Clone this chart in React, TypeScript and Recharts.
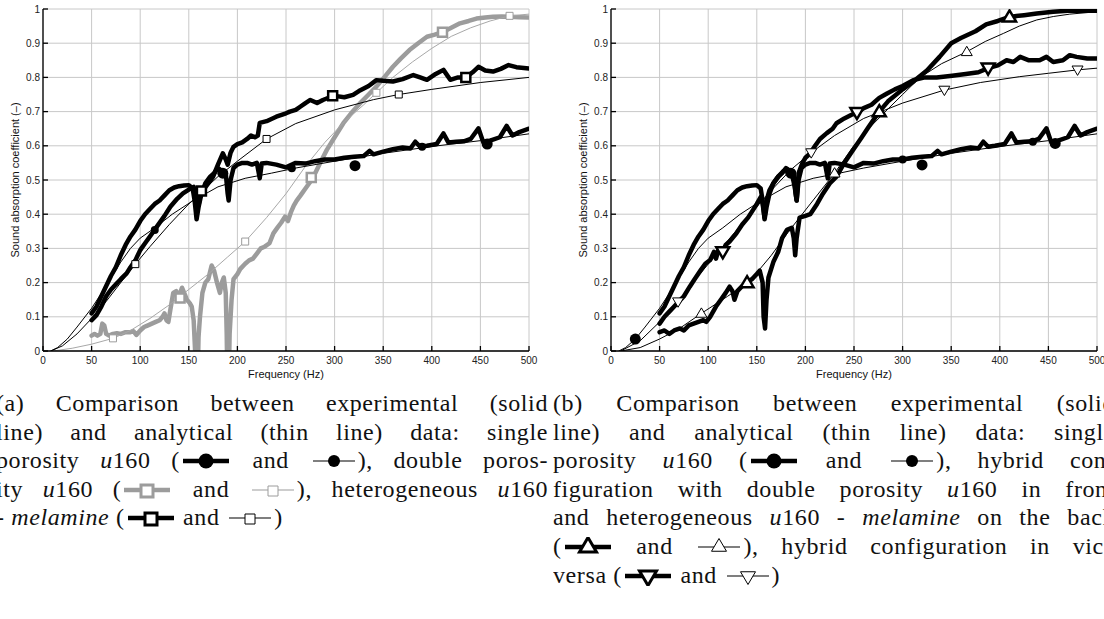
import React from "react";
import {
  CartesianGrid,
  ComposedChart,
  Label,
  Line,
  Scatter,
  XAxis,
  YAxis,
} from "recharts";

// frequency (Hz) / absorption coefficient pairs
const X_TICKS = [0, 50, 100, 150, 200, 250, 300, 350, 400, 450, 500];
const Y_TICKS = [0, 0.1, 0.2, 0.3, 0.4, 0.5, 0.6, 0.7, 0.8, 0.9, 1];

// single porosity u160
const SP_EXP = [
  [50, 0.11], [55, 0.13], [60, 0.16], [65, 0.19], [70, 0.22], [75, 0.245], [80, 0.28],
  [85, 0.31], [90, 0.335], [95, 0.355], [100, 0.38], [105, 0.4], [110, 0.415], [115, 0.43],
  [120, 0.44], [125, 0.455], [130, 0.47], [135, 0.478], [140, 0.482], [145, 0.484],
  [150, 0.485], [154, 0.475], [156, 0.44], [158, 0.385], [160, 0.42], [163, 0.46],
  [167, 0.49], [172, 0.51], [176, 0.52], [180, 0.535], [185, 0.525], [188, 0.52],
  [190, 0.46], [191, 0.44], [193, 0.5], [196, 0.535], [200, 0.545], [205, 0.55],
  [210, 0.55], [215, 0.545], [220, 0.55], [222, 0.52], [223, 0.505], [225, 0.548],
  [230, 0.55], [240, 0.545], [250, 0.537], [260, 0.55], [270, 0.548], [280, 0.555],
  [290, 0.56], [300, 0.56], [310, 0.565], [320, 0.568], [330, 0.57], [336, 0.585],
  [340, 0.575], [350, 0.583], [360, 0.59], [370, 0.595], [378, 0.592], [383, 0.612],
  [388, 0.597], [395, 0.6], [405, 0.605], [412, 0.636], [417, 0.61], [425, 0.612],
  [433, 0.613], [440, 0.62], [448, 0.651], [453, 0.61], [460, 0.615], [470, 0.625],
  [477, 0.658], [483, 0.63], [490, 0.64], [500, 0.65],
];
const SP_ANA = [
  [8, 0], [15, 0.01], [25, 0.035], [35, 0.07], [50, 0.125], [65, 0.19], [80, 0.26],
  [90, 0.3], [100, 0.33], [115, 0.36], [133, 0.4], [153, 0.437], [180, 0.48],
  [208, 0.505], [235, 0.52], [260, 0.535], [300, 0.555], [350, 0.578], [400, 0.598],
  [450, 0.615], [500, 0.635],
];

// double porosity u160
const DP_EXP = [
  [50, 0.045], [53, 0.05], [56, 0.045], [59, 0.05], [61, 0.08], [63, 0.075], [65, 0.05],
  [68, 0.045], [72, 0.05], [76, 0.052], [80, 0.05], [85, 0.055], [90, 0.055], [93, 0.058],
  [96, 0.047], [100, 0.06], [104, 0.07], [108, 0.075], [112, 0.08], [116, 0.085],
  [120, 0.09], [123, 0.1], [125, 0.11], [127, 0.09], [129, 0.085], [131, 0.12],
  [134, 0.17], [137, 0.175], [140, 0.16], [143, 0.185], [146, 0.165], [148, 0.15],
  [151, 0.14], [153, 0.13], [155, 0.09], [156.5, 0], [157.5, -0.1], [159, -0.1],
  [160, 0.04], [161.5, 0.1], [164, 0.17], [167, 0.2], [170, 0.21], [173.5, 0.25],
  [176, 0.235], [179, 0.2], [182, 0.17], [184, 0.2], [186, 0.215], [188, 0.17],
  [189, 0.05], [189.8, -0.1], [191, -0.1], [192, 0.05], [194, 0.15], [196, 0.21],
  [200, 0.225], [203, 0.24], [208, 0.255], [212, 0.265], [216, 0.27], [220, 0.285],
  [224, 0.3], [228, 0.305], [233, 0.315], [237, 0.344], [241, 0.36], [245, 0.375],
  [249, 0.393], [252, 0.38], [255, 0.405], [258, 0.425], [261, 0.44], [265, 0.455],
  [270, 0.475], [275, 0.495], [280, 0.52], [286, 0.555], [292, 0.588], [300, 0.625],
  [309, 0.666], [317, 0.695], [326, 0.724], [335, 0.75], [343, 0.773], [351, 0.8],
  [360, 0.831], [368, 0.855], [377, 0.88], [386, 0.9], [395, 0.919], [403, 0.925],
  [411, 0.932], [420, 0.945], [429, 0.958], [438, 0.965], [446, 0.972], [455, 0.975],
  [463, 0.977], [472, 0.978], [480, 0.977], [490, 0.976], [500, 0.975],
];
const DP_ANA = [
  [10, 0], [30, 0.008], [50, 0.02], [72, 0.037], [90, 0.06], [110, 0.095], [130, 0.135],
  [150, 0.18], [170, 0.225], [190, 0.275], [208, 0.32], [230, 0.39], [250, 0.46],
  [270, 0.54], [290, 0.61], [310, 0.67], [330, 0.72], [343, 0.755], [360, 0.8],
  [380, 0.845], [400, 0.885], [420, 0.92], [440, 0.945], [460, 0.965], [480, 0.98],
  [500, 0.985],
];

// heterogeneous u160 - melamine
const HM_EXP = [
  [50, 0.09], [55, 0.105], [60, 0.13], [65, 0.16], [70, 0.18], [75, 0.195], [80, 0.21],
  [86, 0.227], [90, 0.245], [95, 0.265], [100, 0.295], [105, 0.315], [110, 0.335],
  [117, 0.363], [125, 0.395], [131, 0.422], [138, 0.445], [144, 0.461], [150, 0.472],
  [155, 0.48], [158, 0.45], [160, 0.425], [162, 0.46], [166, 0.475], [170, 0.49],
  [175, 0.51], [180, 0.545], [185, 0.578], [188, 0.56], [190, 0.545], [193, 0.58],
  [196, 0.597], [200, 0.605], [205, 0.61], [210, 0.62], [214, 0.63], [218, 0.625],
  [221, 0.63], [223, 0.667], [230, 0.672], [240, 0.685], [250, 0.695], [254, 0.7],
  [260, 0.705], [265, 0.715], [270, 0.725], [275, 0.734], [282, 0.725], [288, 0.734],
  [295, 0.742], [300, 0.746], [310, 0.742], [319, 0.749], [325, 0.76], [335, 0.775],
  [343, 0.792], [350, 0.79], [360, 0.788], [370, 0.795], [381, 0.807], [388, 0.8],
  [395, 0.793], [404, 0.81], [412, 0.822], [419, 0.793], [427, 0.8], [435, 0.8],
  [442, 0.815], [448, 0.831], [455, 0.82], [463, 0.817], [471, 0.825], [479, 0.836],
  [487, 0.83], [500, 0.826],
];
const HM_ANA = [
  [8, 0], [20, 0.015], [35, 0.05], [50, 0.095], [65, 0.145], [80, 0.2], [95, 0.254],
  [110, 0.305], [130, 0.37], [150, 0.43], [163, 0.465], [180, 0.51], [200, 0.555],
  [230, 0.62], [260, 0.665], [300, 0.705], [340, 0.735], [366, 0.75], [400, 0.765],
  [450, 0.785], [500, 0.8],
];

// hybrid: double porosity front, heterogeneous back
const HY1_EXP = [
  [50, 0.055], [55, 0.06], [60, 0.05], [65, 0.06], [71, 0.066], [75, 0.06], [80, 0.075],
  [85, 0.08], [90, 0.085], [95, 0.09], [98, 0.085], [102, 0.1], [108, 0.13], [113, 0.15],
  [118, 0.17], [122, 0.188], [125, 0.175], [127, 0.15], [130, 0.175], [135, 0.19],
  [140, 0.2], [145, 0.21], [150, 0.225], [153, 0.235], [156, 0.2], [157, 0.1],
  [158.5, 0.066], [160, 0.15], [162, 0.215], [167, 0.26], [172, 0.29], [176, 0.33],
  [181, 0.354], [186, 0.36], [188, 0.33], [189.5, 0.28], [191, 0.33], [194, 0.39],
  [200, 0.395], [205, 0.4], [212, 0.43], [218, 0.46], [225, 0.49], [232, 0.51],
  [240, 0.55], [249, 0.588], [258, 0.625], [265, 0.655], [276, 0.7], [285, 0.73],
  [300, 0.765], [312, 0.79], [325, 0.82], [338, 0.86], [350, 0.9], [360, 0.915],
  [375, 0.935], [386, 0.955], [398, 0.965], [410, 0.977], [425, 0.982], [438, 0.987],
  [455, 0.992], [470, 0.995], [500, 0.995],
];
const HY1_ANA = [
  [10, 0], [30, 0.01], [50, 0.035], [70, 0.065], [93, 0.11], [120, 0.16], [143, 0.205],
  [165, 0.28], [184, 0.354], [205, 0.43], [230, 0.52], [249, 0.597], [265, 0.65],
  [284, 0.705], [300, 0.75], [318, 0.8], [340, 0.84], [366, 0.875], [385, 0.905],
  [404, 0.929], [420, 0.95], [438, 0.968], [455, 0.978], [472, 0.985], [500, 0.992],
];

// hybrid: vice versa
const HY2_EXP = [
  [50, 0.08], [55, 0.1], [60, 0.115], [65, 0.13], [70, 0.145], [75, 0.16], [81, 0.188],
  [86, 0.21], [92, 0.235], [97, 0.255], [102, 0.266], [106, 0.29], [108, 0.27],
  [111, 0.3], [115, 0.29], [118, 0.31], [122, 0.32], [129, 0.344], [135, 0.37],
  [141, 0.39], [146, 0.412], [150, 0.43], [154, 0.45], [156, 0.43], [158, 0.39],
  [160, 0.44], [163, 0.47], [167, 0.49], [172, 0.51], [177, 0.525], [182, 0.53],
  [186, 0.52], [189, 0.48], [191, 0.44], [193, 0.52], [197, 0.55], [200, 0.565],
  [205, 0.578], [210, 0.6], [215, 0.62], [222, 0.637], [228, 0.65], [232, 0.666],
  [240, 0.68], [247, 0.69], [253, 0.697], [260, 0.71], [268, 0.72], [276, 0.74],
  [284, 0.753], [292, 0.765], [300, 0.775], [311, 0.792], [323, 0.8], [335, 0.8],
  [351, 0.805], [365, 0.81], [378, 0.815], [388, 0.827], [398, 0.835], [407, 0.85],
  [414, 0.845], [421, 0.86], [430, 0.85], [441, 0.85], [448, 0.86], [455, 0.845],
  [465, 0.85], [472, 0.865], [479, 0.86], [490, 0.855], [500, 0.855],
];
const HY2_ANA = [
  [10, 0], [30, 0.03], [50, 0.085], [69, 0.144], [90, 0.22], [115, 0.305], [140, 0.39],
  [165, 0.47], [185, 0.53], [206, 0.58], [230, 0.63], [260, 0.68], [300, 0.725],
  [343, 0.763], [380, 0.785], [420, 0.802], [450, 0.812], [480, 0.822], [500, 0.827],
];

// marker positions
const SP_MK_THICK_A = [[185, 0.52], [321, 0.542], [457, 0.605]];
const SP_MK_THIN_A = [[115, 0.354], [256, 0.534], [390, 0.597]];
const SP_MK_THICK_B = [[25, 0.035], [185, 0.52], [320, 0.544], [457, 0.607]];
const SP_MK_THIN_B = [[300, 0.56], [434, 0.612]];
const DP_MK_THICK = [[141, 0.155], [276, 0.507], [411, 0.932]];
const DP_MK_THIN = [[72, 0.037], [208, 0.32], [343, 0.755], [480, 0.98]];
const HM_MK_THICK = [[163, 0.468], [298, 0.746], [435, 0.8]];
const HM_MK_THIN = [[95, 0.254], [230, 0.62], [366, 0.75]];
const HY1_MK_THICK = [[140, 0.2], [276, 0.7], [410, 0.977]];
const HY1_MK_THIN = [[93, 0.11], [230, 0.52], [366, 0.875]];
const HY2_MK_THICK = [[115, 0.29], [253, 0.697], [388, 0.827]];
const HY2_MK_THIN = [[69, 0.144], [206, 0.58], [343, 0.763], [480, 0.822]];

const BLACK = "#000";
const GREY = "#9c9c9c";
const GREY_THIN = "#a8a8a8";
const SANS = "'Liberation Sans', Arial, Helvetica, sans-serif";
const SERIF = "'Liberation Serif', 'Times New Roman', serif";

type Pt = { x: number; y: number };
const pts = (arr: number[][]): Pt[] => arr.map(([x, y]) => ({ x, y }));

type Kind = "circle" | "square" | "up" | "down";

const shapePath = (kind: Kind, cx: number, cy: number, s: number) => {
  if (kind === "up")
    return `M${cx},${cy - s}L${cx + s},${cy + s * 0.7}L${cx - s},${cy + s * 0.7}Z`;
  if (kind === "down")
    return `M${cx},${cy + s}L${cx + s},${cy - s * 0.7}L${cx - s},${cy - s * 0.7}Z`;
  return `M${cx - s},${cy - s}h${2 * s}v${2 * s}h${-2 * s}Z`;
};

const markerShape =
  (kind: Kind, s: number, color: string, sw: number) => (props: any) => {
    const { cx, cy } = props;
    if (cx == null || cy == null) return <g />;
    if (kind === "circle") return <circle cx={cx} cy={cy} r={s} fill={color} />;
    return (
      <path d={shapePath(kind, cx, cy, s)} fill="#fff" stroke={color} strokeWidth={sw} />
    );
  };

type LineDef = { data: number[][]; color: string; width: number };
type MarkDef = { data: number[][]; kind: Kind; size: number; color: string; sw: number };

const tickFmt = (v: number) => (v === 0 ? "0" : v === 1 ? "1" : String(v));

const Plot = ({ left, lines, marks }: { left: number; lines: LineDef[]; marks: MarkDef[] }) => (
  <div style={{ position: "absolute", left, top: 0 }}>
    <ComposedChart width={540} height={380} margin={{ top: 9, right: 11, bottom: 0, left: 0 }}>
      <CartesianGrid stroke="#c8c8c8" strokeWidth={1} />
      <XAxis
        type="number"
        dataKey="x"
        domain={[0, 500]}
        ticks={X_TICKS}
        interval={0}
        allowDataOverflow
        height={29}
        tickSize={-5}
        tickMargin={11}
        stroke={BLACK}
        strokeWidth={1.3}
        tick={{ fontSize: 10, fill: "#222", fontFamily: SANS }}
      >
        <Label
          value="Frequency (Hz)"
          position="insideBottom"
          offset={2}
          style={{ fontSize: 11, fill: "#111", fontFamily: SANS }}
        />
      </XAxis>
      <XAxis
        xAxisId="top"
        orientation="top"
        type="number"
        domain={[0, 500]}
        ticks={X_TICKS}
        interval={0}
        allowDataOverflow
        height={0}
        tickSize={-5}
        tick={false}
        stroke={BLACK}
        strokeWidth={1.3}
      />
      <YAxis
        type="number"
        domain={[0, 1]}
        ticks={Y_TICKS}
        interval={0}
        allowDataOverflow
        width={43}
        tickSize={-5}
        tickMargin={8}
        tickFormatter={tickFmt}
        stroke={BLACK}
        strokeWidth={1.3}
        tick={{ fontSize: 10, fill: "#222", fontFamily: SANS }}
      >
        <Label
          value="Sound absorption coefficient (–)"
          angle={-90}
          position="insideLeft"
          offset={15}
          style={{ fontSize: 11, fill: "#111", fontFamily: SANS, textAnchor: "middle" }}
        />
      </YAxis>
      <YAxis
        yAxisId="right"
        orientation="right"
        type="number"
        domain={[0, 1]}
        ticks={Y_TICKS}
        interval={0}
        width={0}
        tickSize={-5}
        tick={false}
        stroke={BLACK}
        strokeWidth={1.3}
      />
      {lines.map((l, i) => (
        <Line
          key={`l-${i}`}
          data={pts(l.data)}
          dataKey="y"
          type="linear"
          stroke={l.color}
          strokeWidth={l.width}
          strokeLinejoin="round"
          strokeLinecap="round"
          dot={false}
          activeDot={false}
          isAnimationActive={false}
        />
      ))}
      {marks.map((m, i) => (
        <Scatter
          key={`m-${i}`}
          data={pts(m.data)}
          dataKey="y"
          shape={markerShape(m.kind, m.size, m.color, m.sw)}
          isAnimationActive={false}
        />
      ))}
    </ComposedChart>
  </div>
);

const THICK = 4.5;
const THIN = 1;

const LEFT_LINES: LineDef[] = [
  { data: DP_EXP, color: GREY, width: THICK },
  { data: DP_ANA, color: GREY_THIN, width: THIN },
  { data: SP_EXP, color: BLACK, width: THICK },
  { data: HM_EXP, color: BLACK, width: THICK },
  { data: SP_ANA, color: BLACK, width: THIN },
  { data: HM_ANA, color: BLACK, width: THIN },
];
const LEFT_MARKS: MarkDef[] = [
  { data: DP_MK_THICK, kind: "square", size: 4.5, color: GREY, sw: 2.5 },
  { data: DP_MK_THIN, kind: "square", size: 3.5, color: GREY, sw: 1 },
  { data: SP_MK_THICK_A, kind: "circle", size: 5.5, color: BLACK, sw: 0 },
  { data: SP_MK_THIN_A, kind: "circle", size: 4, color: BLACK, sw: 0 },
  { data: HM_MK_THICK, kind: "square", size: 4.5, color: BLACK, sw: 2.5 },
  { data: HM_MK_THIN, kind: "square", size: 3.5, color: BLACK, sw: 1 },
];
const RIGHT_LINES: LineDef[] = [
  { data: SP_EXP, color: BLACK, width: THICK },
  { data: HY1_EXP, color: BLACK, width: THICK },
  { data: HY2_EXP, color: BLACK, width: THICK },
  { data: SP_ANA, color: BLACK, width: THIN },
  { data: HY1_ANA, color: BLACK, width: THIN },
  { data: HY2_ANA, color: BLACK, width: THIN },
];
const RIGHT_MARKS: MarkDef[] = [
  { data: SP_MK_THICK_B, kind: "circle", size: 5.5, color: BLACK, sw: 0 },
  { data: SP_MK_THIN_B, kind: "circle", size: 4, color: BLACK, sw: 0 },
  { data: HY1_MK_THICK, kind: "up", size: 6.5, color: BLACK, sw: 2.5 },
  { data: HY1_MK_THIN, kind: "up", size: 5.5, color: BLACK, sw: 1 },
  { data: HY2_MK_THICK, kind: "down", size: 6.5, color: BLACK, sw: 2.5 },
  { data: HY2_MK_THIN, kind: "down", size: 5.5, color: BLACK, sw: 1 },
];

// little legend glyphs used inside the captions
const Sym = ({ kind, thick, color = BLACK }: { kind: Kind; thick: boolean; color?: string }) => {
  const w = thick ? 50 : 46;
  const cy = 10;
  const cx = w / 2;
  const s = thick ? 6.5 : 5.5;
  return (
    <svg width={w} height={20} style={{ verticalAlign: "-3px", margin: "0 1px" }}>
      <line x1={2} x2={w - 2} y1={cy} y2={cy} stroke={color} strokeWidth={thick ? 4.5 : 1.2} />
      {kind === "circle" ? (
        <circle cx={cx} cy={cy} r={thick ? 7.5 : 6} fill={color} />
      ) : (
        <path
          d={shapePath(kind, cx, kind === "up" ? cy - 1 : cy + 1, kind === "square" ? s - 0.5 : s + 2)}
          fill="#fff"
          stroke={color}
          strokeWidth={thick ? 3 : 1}
        />
      )}
    </svg>
  );
};

const lineStyle = (left: number, width: number, i: number, justify: boolean): React.CSSProperties => ({
  position: "absolute",
  left,
  top: 388 + i * 28.6,
  width,
  height: 30,
  lineHeight: "30px",
  fontFamily: SERIF,
  fontSize: 24,
  letterSpacing: "0.6px",
  color: "#111",
  whiteSpace: "normal",
  textAlign: justify ? "justify" : "left",
  textAlignLast: justify ? "justify" : "left",
  overflow: "hidden",
});

const U = () => (
  <>
    <i>u</i>160
  </>
);

const COL_A = { left: -4, width: 552 };
const COL_B = { left: 553, width: 562 };

const CapLine = ({ col, i, last, children }: any) => (
  <div style={lineStyle(col.left, col.width, i, !last)}>{children}</div>
);

export default function App() {
  return (
    <div
      style={{
        position: "absolute",
        left: 0,
        top: 0,
        width: 1104,
        height: 619,
        overflow: "hidden",
        background: "#fff",
      }}
    >
      <Plot left={0} lines={LEFT_LINES} marks={LEFT_MARKS} />
      <Plot left={568} lines={RIGHT_LINES} marks={RIGHT_MARKS} />

      <CapLine col={COL_A} i={0}>(a) Comparison between experimental (solid</CapLine>
      <CapLine col={COL_A} i={1}>line) and analytical (thin line) data: single</CapLine>
      <CapLine col={COL_A} i={2}>
        porosity <U /> (<Sym kind="circle" thick /> and <Sym kind="circle" thick={false} />), double poros-
      </CapLine>
      <CapLine col={COL_A} i={3}>
        ity <U /> (<Sym kind="square" thick color={GREY} /> and{" "}
        <Sym kind="square" thick={false} color={GREY} />), heterogeneous <U />
      </CapLine>
      <CapLine col={COL_A} i={4} last>
        - <i>melamine</i> (<Sym kind="square" thick /> and <Sym kind="square" thick={false} />)
      </CapLine>

      <CapLine col={COL_B} i={0}>(b) Comparison between experimental (solid</CapLine>
      <CapLine col={COL_B} i={1}>line) and analytical (thin line) data: single</CapLine>
      <CapLine col={COL_B} i={2}>
        porosity <U /> (<Sym kind="circle" thick /> and <Sym kind="circle" thick={false} />), hybrid con-
      </CapLine>
      <CapLine col={COL_B} i={3}>
        figuration with double porosity <U /> in front
      </CapLine>
      <CapLine col={COL_B} i={4}>
        and heterogeneous <U /> - <i>melamine</i> on the back
      </CapLine>
      <CapLine col={COL_B} i={5}>
        (<Sym kind="up" thick /> and <Sym kind="up" thick={false} />), hybrid configuration in vice
      </CapLine>
      <CapLine col={COL_B} i={6} last>
        versa (<Sym kind="down" thick /> and <Sym kind="down" thick={false} />)
      </CapLine>
    </div>
  );
}
